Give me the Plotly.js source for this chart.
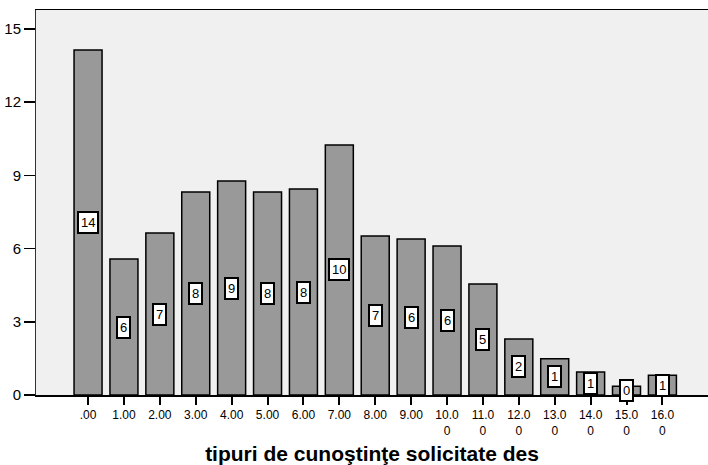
<!DOCTYPE html>
<html>
<head>
<meta charset="utf-8">
<script src="https://cdn.plot.ly/plotly-3.0.1.min.js"></script>
<style>html,body{margin:0;padding:0;background:#fff;}#chart{width:708px;height:465px;}</style>
</head>
<body>
<div id="chart"></div>
<script>
const categories = [".00","1.00","2.00","3.00","4.00","5.00","6.00","7.00","8.00","9.00","10.0<br>0","11.0<br>0","12.0<br>0","13.0<br>0","14.0<br>0","15.0<br>0","16.0<br>0"];
const values = [14.14,5.57,6.64,8.32,8.77,8.32,8.44,10.25,6.52,6.39,6.11,4.55,2.30,1.49,0.94,0.36,0.81];
const labels = ["14","6","7","8","9","8","8","10","7","6","6","5","2","1","1","0","1"];
const yTicks = [0,3,6,9,12,15];

const xs = categories.map((c,i)=>i);

const trace = {
  type: "bar",
  x: xs,
  y: values,
  width: 0.78,
  marker: {color: "#999999", line: {color: "#000000", width: 1.5}},
  hoverinfo: "none"
};

const annotations = values.map((v,i)=>({
  x: xs[i], y: v/2, xref: "x", yref: "y",
  text: labels[i], showarrow: false,
  font: {family: "Liberation Sans, Arial, sans-serif", size: 13, color: "#000"},
  bgcolor: "#ffffff", bordercolor: "#000000", borderwidth: 2, borderpad: 2
}));

const layout = {
  width: 708, height: 465,
  margin: {l: 36, r: 0, t: 10, b: 70},
  paper_bgcolor: "#ffffff",
  plot_bgcolor: "#f0f0f0",
  showlegend: false,
  font: {family: "Liberation Sans, Arial, sans-serif", color: "#000"},
  xaxis: {
    range: [-1.45, 17.27],
    tickmode: "array", tickvals: xs, ticktext: categories,
    ticks: "outside", ticklen: 8, tickwidth: 2, tickcolor: "#000",
    tickfont: {size: 12, color: "#000"},
    showgrid: false, zeroline: false,
    showline: true, linecolor: "#000", linewidth: 1.5, mirror: true,
    title: {text: "tipuri de cunoştinţe solicitate des", font: {size: 21, color: "#000", weight: "bold"}, standoff: 12}
  },
  yaxis: {
    range: [0, 15.78],
    tickmode: "array", tickvals: yTicks, ticktext: yTicks.map(String),
    ticks: "outside", ticklen: 11, tickwidth: 1.5, tickcolor: "#000",
    tickfont: {size: 15, color: "#000"},
    showgrid: false, zeroline: false,
    showline: true, linecolor: "#333", linewidth: 1
  },
  annotations: annotations,
  bargap: 0
};

Plotly.newPlot("chart", [trace], layout, {displayModeBar: false, staticPlot: true});
</script>
</body>
</html>
